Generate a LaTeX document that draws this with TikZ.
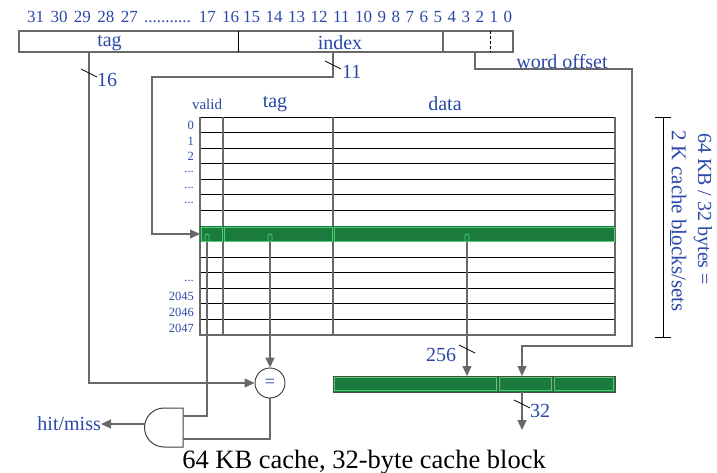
\documentclass[tikz,border=0pt]{standalone}
\usepackage{fontspec}
\setmainfont{Liberation Serif}
\usetikzlibrary{arrows.meta}
\definecolor{tblue}{HTML}{2A48A8}
\definecolor{gdark}{HTML}{1B7A3E}
\definecolor{glight}{HTML}{4CD070}
\definecolor{wire}{HTML}{686868}
\newcommand\rowdots{...}
\begin{document}
\begin{tikzpicture}[x=1pt,y=-1pt,
  lbl/.style={text=tblue,inner sep=0pt,font=\fontsize{20}{22}\selectfont},
  small/.style={text=tblue,inner sep=0pt,font=\fontsize{12.5}{13}\selectfont},
  bits/.style={text=tblue,inner sep=0pt,font=\fontsize{17}{18}\selectfont},
  wireline/.style={draw=wire,line width=1.2pt},
  arr/.style={-{Triangle[length=10pt,width=9pt]}},
  slash/.style={draw=black,line width=0.8pt},
  hline/.style={draw=black,line width=0.9pt},
  vline/.style={draw=wire,line width=1.2pt},
]
\useasboundingbox (0,0) rectangle (717,473);
% address bits
\node[bits,anchor=west] (b1) at (27,17) {\spaceskip=6.4pt\relax 31 30 29 28 27 ........... 17 16};
\node[bits,anchor=west] (b2) at (243,17) {\spaceskip=5.5pt\relax 15 14 13 12 11 10 9 8 7 6 5 4 3 2 1 0};
% address box
\draw[wire,line width=1.2pt] (19,31) rectangle (513,52);
\draw[black,line width=0.9pt] (238,31) -- (238,52);
\draw[wire,line width=1.2pt] (443,31) -- (443,52);
\draw[black,line width=0.9pt,dash pattern=on 3pt off 2pt] (490,31) -- (490,52);
\node[lbl] (atag) at (109.5,43) {tag};
\node[lbl] (aidx) at (340,43) {index};
\coordinate (tagout) at (89,52);
\coordinate (idxout) at (333,52);
\coordinate (offout) at (475,52);
% table headers
\node[small,font=\fontsize{15}{16}\selectfont] (hvalid) at (207,104) {valid};
\node[lbl] (htag) at (275,104) {tag};
\node[lbl] (hdata) at (445,104) {data};
% table rows
\foreach \i in {0,1,2,3,4,5,6,7,8,9,10,11,12,13} {
  \draw[hline] (200,{117+\i*15.57}) -- (615,{117+\i*15.57});
}
\draw[vline] (200,335) -- (615,335);
\foreach \x in {200,223,333,615} { \draw[vline] (\x,117) -- (\x,336); }
% row labels
\foreach \i/\t in {0/0,1/1,2/2,3/\rowdots,4/\rowdots,5/\rowdots,10/\rowdots,11/2045,12/2046,13/2047} {
  \node[small,anchor=east] at (194,{117+\i*15.57+8.5}) {\t};
}
% highlighted row
\fill[gdark] (200,226) rectangle (615,242);
\draw[glight,line width=0.9pt] (201,227) rectangle (222,241);
\draw[glight,line width=0.9pt] (224,227) rectangle (332,241);
\draw[glight,line width=0.9pt] (334,227) rectangle (614,241);
\coordinate (row) at (200,234);
\foreach \x in {207,270,467} {
  \draw[glight,line width=0.9pt,rounded corners=1.5pt] (\x-2,241) -- (\x-2,234) -- (\x+2,234) -- (\x+2,241);
}
\coordinate (vout) at (207,242);
\coordinate (tout) at (270,242);
\coordinate (dout) at (467,242);
% bracket
\draw[black,line width=0.9pt] (663,117) -- (663,337);
\draw[black,line width=0.9pt] (655,117) -- (671,117);
\draw[black,line width=0.9pt] (655,337) -- (671,337);
\node[lbl,rotate=-90,anchor=west] (br1) at (703,133) {64 KB / 32 bytes =};
\node[lbl,rotate=-90,anchor=west,font=\fontsize{21}{22}\selectfont] (br2) at (678,130) {2 K cache b\underline{lo}cks/sets};
% block bar
\fill[gdark,draw=black!70,line width=0.9pt] (333,376) rectangle (498,392);
\fill[gdark,draw=black!70,line width=0.9pt] (498,376) rectangle (553,392);
\fill[gdark,draw=black!70,line width=0.9pt] (553,376) rectangle (615,392);
\draw[glight,line width=0.9pt] (334.5,377.5) rectangle (496.5,390.5);
\draw[glight,line width=0.9pt] (499.5,377.5) rectangle (551.5,390.5);
\draw[glight,line width=0.9pt] (554.5,377.5) rectangle (613.5,390.5);
\coordinate (blkdata) at (467,376);
\coordinate (blkword) at (522,376);
\coordinate (blkout) at (522,392);
\coordinate (wordout) at (522,430);
% comparator
\node[circle,draw=black!80,fill=white,line width=0.9pt,minimum size=30pt,inner sep=0pt,text=tblue,font=\fontsize{18}{18}\selectfont] (eq) at (270,383) {=};
% AND gate
\coordinate (gin1) at (183,416);
\coordinate (gin2) at (183,439);
\coordinate (gout) at (145,424);
\draw[draw=black!75,fill=white,line width=1pt] (183,408) -- (164,408) arc[start angle=90,end angle=270,radius=19.5pt] -- (183,447) -- cycle;
\node[lbl,anchor=east] (hm) at (101,424) {hit/miss};
% wires
\draw[wireline,arr] (tagout) |- (eq.west);
\draw[wireline,arr] (idxout) -- (333,77) -- (152,77) |- (row);
\draw[wireline,arr] (offout) -- (475,69) -- (632,69) -- (632,346) -- (522,346) -- (blkword);
\draw[wireline] (vout) |- (gin1);
\draw[wireline,arr] (tout) -- (eq.north);
\draw[wireline] (eq.south) |- (gin2);
\draw[wireline,arr] (dout) -- (blkdata);
\draw[wireline,arr] (blkout) -- (wordout);
\draw[wireline,arr] (gout) -- (hm.east);
% slashes and widths
\draw[slash] (81,69) -- (97,77);
\node[lbl,anchor=west] (w16) at (97,80) {16};
\draw[slash] (325,61) -- (341,69);
\node[lbl,anchor=west] (w11) at (342,72) {11};
\draw[slash] (459,345) -- (475,353);
\node[lbl] (w256) at (441,355) {256};
\draw[slash] (514,400) -- (530,408);
\node[lbl,anchor=west] (w32) at (530,411) {32};
\node[lbl,anchor=base] (wo) at (562,69) {word offset};
% caption
\node[inner sep=0pt,font=\fontsize{26.5}{27}\selectfont] (cap) at (364,462) {64 KB cache, 32-byte cache block};
\end{tikzpicture}
\end{document}
